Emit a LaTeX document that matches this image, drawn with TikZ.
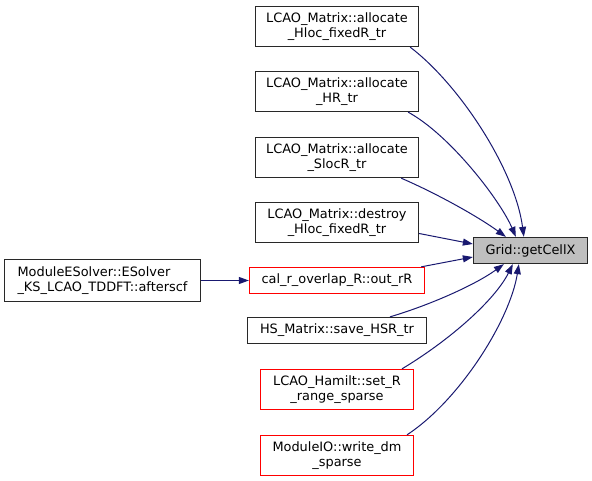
\documentclass[tikz,border=0pt]{standalone}
\usepackage{fontspec}
\setmainfont{DejaVu Sans}
\usetikzlibrary{arrows.meta}
\definecolor{edgeblue}{RGB}{25,25,112}
\definecolor{nodered}{RGB}{255,0,0}
\definecolor{gridfill}{RGB}{191,191,191}
\definecolor{boxline}{RGB}{40,40,40}
\begin{document}
\begin{tikzpicture}[x=1pt,y=-1pt,
  box/.style={draw=boxline, line width=1.3pt, inner sep=0pt, align=center, font=\fontsize{12.9}{15}\selectfont},
  redbox/.style={box, draw=nodered},
  edge/.style={draw=edgeblue, line width=1pt, -{Triangle[length=10pt,width=7pt]}},
]
\useasboundingbox (0,0) rectangle (592,481);
\node[box, fill=gridfill, minimum width=114pt, minimum height=26pt] (grid) at (530.5,250.5) {Grid::getCellX};
\node[box, minimum width=163pt, minimum height=40pt] (a1) at (337,26.5) {LCAO\_Matrix::allocate\\\_Hloc\_fixedR\_tr};
\node[box, minimum width=163pt, minimum height=40pt] (a2) at (337,91.5) {LCAO\_Matrix::allocate\\\_HR\_tr};
\node[box, minimum width=163pt, minimum height=40pt] (a3) at (337,157.5) {LCAO\_Matrix::allocate\\\_SlocR\_tr};
\node[box, minimum width=163pt, minimum height=40pt] (ds) at (337,222.5) {LCAO\_Matrix::destroy\\\_Hloc\_fixedR\_tr};
\node[redbox, minimum width=175pt, minimum height=26pt] (cr) at (337,280.5) {cal\_r\_overlap\_R::out\_rR};
\node[box, minimum width=179pt, minimum height=26pt] (hs) at (337,330.5) {HS\_Matrix::save\_HSR\_tr};
\node[redbox, minimum width=153pt, minimum height=40pt] (sr) at (337,389.5) {LCAO\_Hamilt::set\_R\\\_range\_sparse};
\node[redbox, minimum width=153pt, minimum height=40pt] (wd) at (337,455.5) {ModuleIO::write\_dm\\\_sparse};
\node[box, align=left, minimum width=196pt, minimum height=42pt] (me) at (102.5,280.5) {ModuleESolver::ESolver\\\_KS\_LCAO\_TDDFT::afterscf};

\draw[edge] ([xshift=-9pt]a1.south east) .. controls (460,85) and (515,170) .. ([xshift=51pt]grid.north west);
\draw[edge] ([xshift=-11pt]a2.south east) .. controls (450,135) and (500,200) .. ([xshift=43pt]grid.north west);
\draw[edge] ([xshift=-18pt]a3.south east) .. controls (440,195) and (480,218) .. ([xshift=33pt]grid.north west);
\draw[edge] ([yshift=-11pt]ds.east) -- ([yshift=6.5pt]grid.west);
\draw[edge] ([xshift=-4pt]cr.north east) -- ([yshift=-6.5pt]grid.west);
\draw[edge] ([xshift=53pt]hs.north) .. controls (430,305) and (475,285) .. ([xshift=31pt]grid.south west);
\draw[edge] ([xshift=65pt]sr.north) .. controls (450,340) and (495,300) .. ([xshift=40pt]grid.south west);
\draw[edge] ([xshift=70pt]wd.north) .. controls (460,400) and (510,320) .. ([xshift=46pt]grid.south west);
\draw[edge] (me.east) -- (cr.west);
\end{tikzpicture}
\end{document}
